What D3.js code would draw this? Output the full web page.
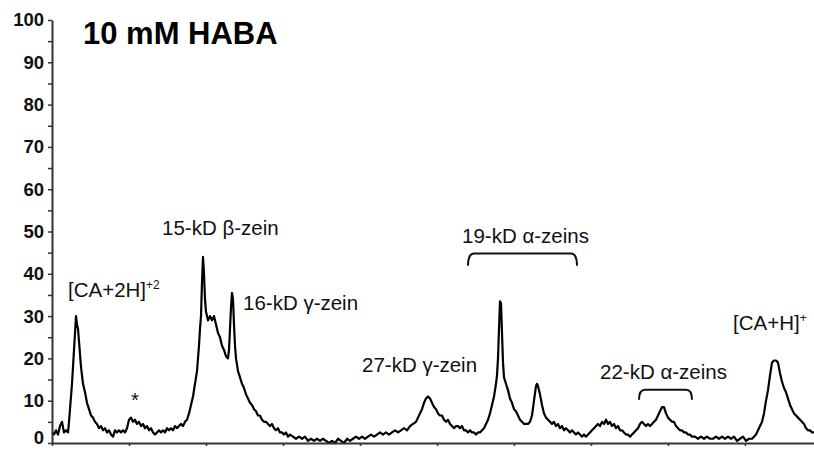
<!DOCTYPE html>
<html><head><meta charset="utf-8">
<script src="https://cdn.jsdelivr.net/npm/d3@7/dist/d3.min.js"></script>
<style>body{margin:0;background:#fff}svg{display:block}</style>
</head><body>
<svg id="chart" width="814" height="450"></svg>
<script>
// Spectrum trace: channel position (arbitrary m/z units along the axis) and relative intensity (%)
const channel = [0,2,4,6,8,10,12,14,16,17,18,19,20,21,22,23,24,25,26,27,28,29,30,31,33,35,37,39,41,43,45,47,49,51,53,55,57,59,61,63,65,67,69,71,73,75,77,79,81,83,85,87,89,91,93,95,97,99,101,103,105,107,109,111,113,115,117,119,121,123,125,127,129,131,133,135,137,139,141,143,145,146,147,148,149,150,151,152,153,154,155,156,158,160,162,164,166,168,170,172,174,176,177,178,179,180,181,182,183,184,186,188,190,192,194,196,198,200,202,204,206,208,210,212,214,216,218,220,222,224,226,228,230,232,234,236,238,241,244,247,250,253,256,259,262,265,268,271,274,277,280,283,286,289,292,295,298,301,304,307,310,313,316,319,322,325,328,331,334,337,340,343,346,349,352,355,358,361,364,366,368,370,372,374,376,378,380,382,384,386,388,390,392,394,396,398,400,402,404,406,408,410,412,414,416,418,420,422,424,426,428,430,432,434,436,438,440,442,444,445,446,447,448,449,450,451,452,454,456,458,460,462,464,466,468,470,472,474,476,478,480,482,484,485,486,488,490,492,494,496,498,500,502,504,506,508,510,512,514,516,518,520,522,524,526,528,530,532,534,536,538,540,542,544,546,548,550,552,554,556,558,560,562,564,566,568,570,572,574,576,578,580,582,584,586,588,590,592,594,596,598,600,602,604,606,608,610,612,614,616,618,620,622,624,626,628,630,632,634,636,638,640,643,646,649,652,655,658,661,664,667,670,673,676,679,682,685,688,691,694,697,700,702,704,706,708,710,712,714,716,718,720,722,724,726,728,730,732,734,736,738,740,742,744,746,748,750,752,754,756,758,760,762];
const intensity = [2.5,2,3,2,4,5,2.5,3,2.5,5,8,11,14,18,22,26,30,28,27,24,21,18,16,14,12,9.5,8,6.5,6,5,4.5,3.5,4,3,3.5,2.5,3,2,1.5,3,2.5,3,2.5,3,2.5,3.5,5.5,6,5,5.5,4.5,5,4,4.5,3.5,4,3,3.5,2.5,2,2.5,3,2.5,3,2.5,3.5,3,3.5,3,4,3.5,4,4.5,4,5,5.5,7,9,11,14,17,20,23,27,30,38,44,40,34,31,30,29,30,29,30,28,26,25,23,22,20.5,20,22,27,32,35.5,34,28,23,20,17,15.5,14,13,11.5,10.5,9.5,9,8,7.5,6.5,6.5,5.5,5,5,4.5,4,4.5,3.5,3,3.5,2.5,2.5,2,2.5,1.5,2,1.5,1,1.5,1,1.5,0.5,1,0.5,1,0.5,1,0.5,0,0.5,0,1,0.5,0,1,0.5,1,1.5,1,1.5,1,1.5,2,1.5,2,2.5,2,2.5,2,2.5,3,2.5,3,3.5,3,4,4.5,5,6,7,8,9.5,10.5,11,10.5,9.5,8.5,8,7,6.5,6.5,5.5,5,5.5,4.5,4,3.5,4,4,3.5,4,3,3,2.5,3,2.5,2.5,2,2.5,2.5,3,3.5,4.5,5.5,7,9,11,14,16,20,27,33.5,33,26,19,15.5,14,12.5,10.5,9.5,8,7.5,6.5,5.5,5,4.5,4.5,4.5,5,6.5,10,13.5,14,13.5,11.5,9,7,6,5.5,5,4.5,5,4,4.5,3.5,4,3,3.5,3,2.5,3,2.5,2,2.5,2,1.5,2,1.5,2,2.5,3,3.5,4,4.5,4,5,4.5,5.5,4.5,5,4,4.5,3.5,4,3,3,2.5,2,2,1.5,2,2.5,3,3.5,4.5,5,4.5,4,4.5,4,4.5,5,5.5,6.5,7.5,8.5,8.5,7,6,5.5,5,5,4,3.5,3,3,2.5,2.5,2,2,1.5,1.5,1,1.5,1,1.5,1,1,1.5,1,1.5,1,1.5,1,1.5,0.5,1,1.5,0.5,1,1,1.5,2,3,4,5,7,10,12.5,16,19,19.5,19.5,19,16.5,14.5,13,12,10.5,9,8,7,6.5,6,5.5,5,4.5,3.5,3,3,2.5,2.5];

const yMajorTicks = [0,10,20,30,40,50,60,70,80,90,100];
const yMinorTicks = [5,15,25,35,45,55,65,75,85,95];
const xTicks = [0,77,154,231,308,385,462,539,616,693];

const titleText = "10 mM HABA";
// annotations: text pieces, anchor in data units (channel, intensity)
const peakLabels = [
  {parts:[["15-kD ",""],["β","g"],["-zein",""]], ch:110, v:49.2},
  {parts:[["[CA+2H]",""],["+2","sup"]], ch:16, v:34.5},
  {parts:[["16-kD ",""],["γ","g"],["-zein",""]], ch:191, v:31.4},
  {parts:[["27-kD ",""],["γ","g"],["-zein",""]], ch:310, v:16.8},
  {parts:[["19-kD ",""],["α","g"],["-zeins",""]], ch:410, v:47.3},
  {parts:[["22-kD ",""],["α","g"],["-zeins",""]], ch:548, v:15.1},
  {parts:[["[CA+H]",""],["+","sup"]], ch:681, v:26.7},
  {parts:[["*",""]], ch:79, v:8.6}
];
const brackets = [
  {from:416, to:525, top:44.8, bottom:41.9},
  {from:587, to:640, top:12.6, bottom:10.2}
];

const svg = d3.select("#chart");
const x = d3.scaleLinear().domain([0,762]).range([52,814]);
const y = d3.scaleLinear().domain([0,100]).range([443,20]);

// trace
const pts = channel.map((c,i)=>[c,intensity[i]]);
svg.append("path").datum(pts)
  .attr("fill","none").attr("stroke","#000").attr("stroke-width",2.2)
  .attr("stroke-linejoin","round")
  .attr("d", d3.line().x(d=>x(d[0])).y(d=>y(d[1])));

// y axis
const yAxis = svg.append("g").attr("transform","translate(52,0)")
  .call(d3.axisLeft(y).tickValues(yMajorTicks.concat(yMinorTicks)).tickSize(4).tickSizeOuter(0).tickPadding(4)
    .tickFormat(d=> yMajorTicks.includes(d) ? d : ""));
yAxis.select(".domain").attr("stroke","#333").attr("stroke-width",2);
yAxis.selectAll(".tick line").attr("stroke","#333").attr("stroke-width",1.5);
yAxis.selectAll(".tick text").attr("fill","#111")
  .style("font-family","'Liberation Sans', Arial, sans-serif").style("font-weight","bold").style("font-size","18.5px")
  .attr("dy", d => d===0 ? "0.05em" : "0.32em");

// x axis
const xAxis = svg.append("g").attr("transform","translate(0,443)")
  .call(d3.axisBottom(x).tickValues(xTicks).tickSize(3).tickSizeOuter(0).tickFormat(""));
xAxis.select(".domain").attr("stroke","#333").attr("stroke-width",2);
xAxis.selectAll(".tick line").attr("stroke","#333").attr("stroke-width",1.5);

// title
svg.append("text").attr("x", x(31)).attr("y", y(94.3))
  .style("font-family","'Liberation Sans', Arial, sans-serif").style("font-weight","bold")
  .style("font-size","31px").attr("fill","#000").text(titleText);

// peak labels
peakLabels.forEach(l=>{
  const t = svg.append("text").attr("x", x(l.ch)).attr("y", y(l.v))
    .style("font-family","'Liberation Sans', Arial, sans-serif").style("font-size","20.5px").attr("fill","#111");
  l.parts.forEach(p=>{
    const s = t.append("tspan").text(p[0]);
    if(p[1]==="sup"){ s.style("font-size","12px").attr("dy","-8"); }
  });
});

// brackets
brackets.forEach(b=>{
  const x1=x(b.from), x2=x(b.to), yt=y(b.top), yb=y(b.bottom), r=6;
  svg.append("path")
    .attr("d",`M${x1},${yb} Q${x1},${yt} ${x1+r},${yt} L${x2-r},${yt} Q${x2},${yt} ${x2},${yb}`)
    .attr("fill","none").attr("stroke","#111").attr("stroke-width",2);
});
</script>
</body></html>
